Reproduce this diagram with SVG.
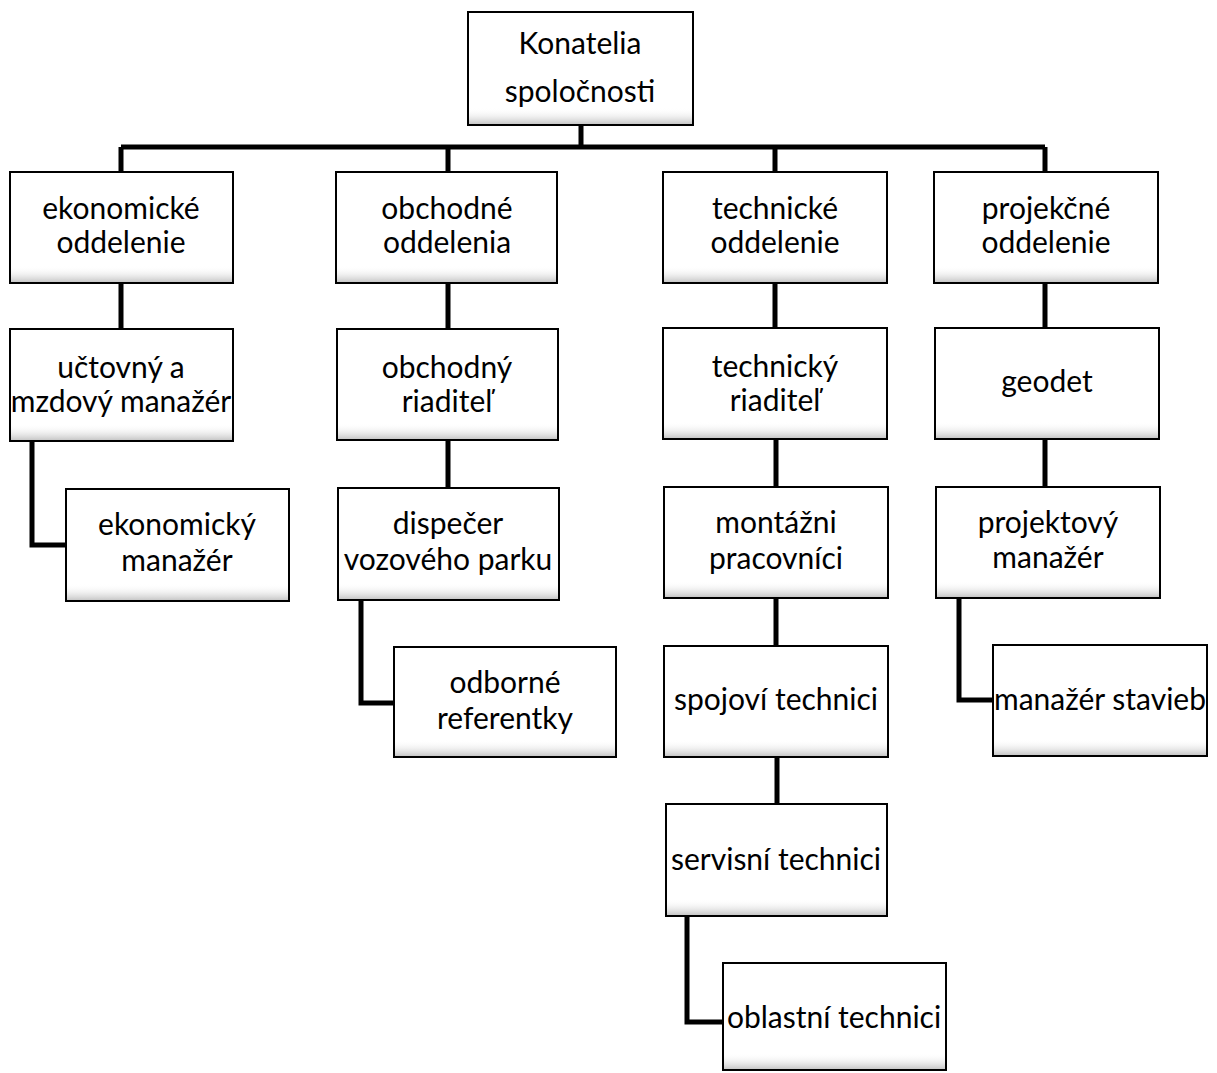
<svg xmlns="http://www.w3.org/2000/svg" width="1217" height="1073" viewBox="0 0 1217 1073">
<defs>
<linearGradient id="shade" x1="0" y1="0" x2="0" y2="1">
<stop offset="0" stop-color="#ffffff" stop-opacity="0"/>
<stop offset="1" stop-color="#9a9a9a" stop-opacity="0.55"/>
</linearGradient>
<style>
.box{fill:#fff;stroke:#000;stroke-width:2}
.sh{fill:url(#shade);stroke:none}
.t{font-family:Lato,"Liberation Sans",sans-serif;font-size:30px;fill:#000;text-anchor:middle}
.c{fill:none;stroke:#000;stroke-width:5;stroke-linejoin:miter}
</style>
</defs>
<rect width="1217" height="1073" fill="#fff"/>
<g id="connectors">
<path class="c" d="M581,125V147M121,147H1045M121,147V172M448,147V172M775,147V172M1045,147V172"/>
<path class="c" d="M121,283V329M448,283V329M775,283V328M1045,283V328"/>
<path class="c" d="M448,440V488M776,439V487M1045,439V487"/>
<path class="c" d="M32,441V545H66"/>
<path class="c" d="M361,600V703H394"/>
<path class="c" d="M776,598V646M777,757V804"/>
<path class="c" d="M959,598V700H993"/>
<path class="c" d="M687,916V1022H723"/>
</g>
<g id="n_root"><rect class="box" x="468" y="12" width="225" height="113"/><rect class="sh" x="469" y="108" width="223" height="16"/><text class="t" x="580" y="54">Konatelia</text><text class="t" x="580" y="102">spoločnosti</text></g>
<g id="n_ek"><rect class="box" x="10" y="172" width="223" height="111"/><rect class="sh" x="11" y="266" width="221" height="16"/><text class="t" x="121" y="219">ekonomické</text><text class="t" x="121" y="253">oddelenie</text></g>
<g id="n_ob"><rect class="box" x="336" y="172" width="221" height="111"/><rect class="sh" x="337" y="266" width="219" height="16"/><text class="t" x="447" y="219">obchodné</text><text class="t" x="447" y="253">oddelenia</text></g>
<g id="n_te"><rect class="box" x="663" y="172" width="224" height="111"/><rect class="sh" x="664" y="266" width="222" height="16"/><text class="t" x="775" y="219">technické</text><text class="t" x="775" y="253">oddelenie</text></g>
<g id="n_pr"><rect class="box" x="934" y="172" width="224" height="111"/><rect class="sh" x="935" y="266" width="222" height="16"/><text class="t" x="1046" y="219">projekčné</text><text class="t" x="1046" y="253">oddelenie</text></g>
<g id="n_uc"><rect class="box" x="10" y="329" width="223" height="112"/><rect class="sh" x="11" y="424" width="221" height="16"/><text class="t" x="121" y="378">učtovný a</text><text class="t" x="121" y="412">mzdový manažér</text></g>
<g id="n_obr"><rect class="box" x="337" y="329" width="221" height="111"/><rect class="sh" x="338" y="423" width="219" height="16"/><text class="t" x="447" y="378">obchodný</text><text class="t" x="447" y="412">riaditeľ</text></g>
<g id="n_ter"><rect class="box" x="663" y="328" width="224" height="111"/><rect class="sh" x="664" y="422" width="222" height="16"/><text class="t" x="775" y="377">technický</text><text class="t" x="775" y="411">riaditeľ</text></g>
<g id="n_geo"><rect class="box" x="935" y="328" width="224" height="111"/><rect class="sh" x="936" y="422" width="222" height="16"/><text class="t" x="1047" y="392">geodet</text></g>
<g id="n_ekm"><rect class="box" x="66" y="489" width="223" height="112"/><rect class="sh" x="67" y="584" width="221" height="16"/><text class="t" x="177" y="535">ekonomický</text><text class="t" x="177" y="571">manažér</text></g>
<g id="n_dis"><rect class="box" x="338" y="488" width="221" height="112"/><rect class="sh" x="339" y="583" width="219" height="16"/><text class="t" x="448" y="534">dispečer</text><text class="t" x="448" y="570">vozového parku</text></g>
<g id="n_mon"><rect class="box" x="664" y="487" width="224" height="111"/><rect class="sh" x="665" y="581" width="222" height="16"/><text class="t" x="776" y="533">montážni</text><text class="t" x="776" y="569">pracovníci</text></g>
<g id="n_prm"><rect class="box" x="936" y="487" width="224" height="111"/><rect class="sh" x="937" y="581" width="222" height="16"/><text class="t" x="1048" y="533">projektový</text><text class="t" x="1048" y="568">manažér</text></g>
<g id="n_odb"><rect class="box" x="394" y="647" width="222" height="110"/><rect class="sh" x="395" y="740" width="220" height="16"/><text class="t" x="505" y="693">odborné</text><text class="t" x="505" y="729">referentky</text></g>
<g id="n_spo"><rect class="box" x="664" y="646" width="224" height="111"/><rect class="sh" x="665" y="740" width="222" height="16"/><text class="t" x="776" y="710">spojoví technici</text></g>
<g id="n_mst"><rect class="box" x="993" y="645" width="214" height="111"/><rect class="sh" x="994" y="739" width="212" height="16"/><text class="t" x="1100" y="710">manažér stavieb</text></g>
<g id="n_ser"><rect class="box" x="666" y="804" width="221" height="112"/><rect class="sh" x="667" y="899" width="219" height="16"/><text class="t" x="776" y="870">servisní technici</text></g>
<g id="n_obl"><rect class="box" x="723" y="963" width="223" height="107"/><rect class="sh" x="724" y="1053" width="221" height="16"/><text class="t" x="834" y="1028">oblastní technici</text></g>
</svg>
